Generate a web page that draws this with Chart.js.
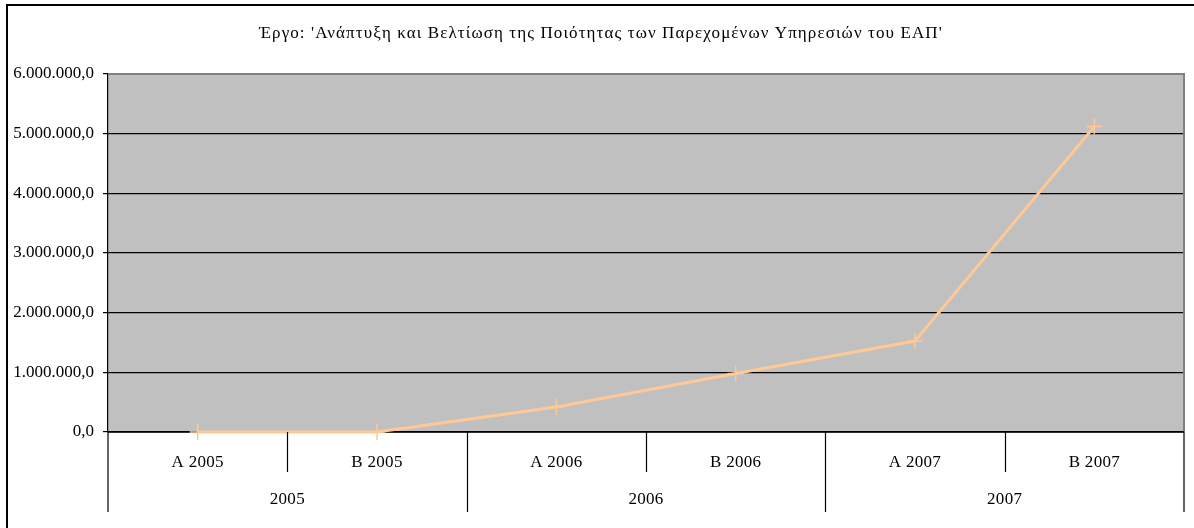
<!DOCTYPE html>
<html>
<head>
<meta charset="utf-8">
<script src="https://cdn.jsdelivr.net/npm/chart.js@4/dist/chart.umd.min.js"></script>
<style>
  html, body { margin:0; padding:0; background:#fff; }
  #wrap { position:relative; width:1194px; height:528px; }
</style>
</head>
<body>
<div id="wrap"><canvas id="chart"></canvas></div>
<script>
// ---- data ----
const titleText = "Έργο: 'Ανάπτυξη και Βελτίωση της Ποιότητας των Παρεχομένων Υπηρεσιών του ΕΑΠ'";
const categories = ['Α 2005', 'Β 2005', 'Α 2006', 'Β 2006', 'Α 2007', 'Β 2007'];
const years = ['2005', '2006', '2007'];       // each year spans two categories
const values = [0, 0, 420000, 980000, 1525000, 5120000];
const yMax = 6000000;
const yStep = 1000000;

const FONT = "'Liberation Serif', 'Times New Roman', serif";

function fmt(v){
  // greek style: 6.000.000,0
  const s = Math.round(v).toString().replace(/\B(?=(\d{3})+(?!\d))/g, '.');
  return s + ',0';
}

// ---- custom drawing: background, frame, title, two-level category axis ----
const frame = {
  id:'frame',
  beforeDraw(chart){
    const {ctx, chartArea:a, width} = chart;
    ctx.letterSpacing = '0px';
    ctx.save();
    ctx.fillStyle = '#fff';
    ctx.fillRect(0, 0, width, chart.height);
    // outer border
    ctx.strokeStyle = '#000';
    ctx.lineWidth = 2;
    ctx.beginPath();
    ctx.moveTo(7, chart.height);
    ctx.lineTo(7, 5);
    ctx.lineTo(width, 5);
    ctx.stroke();
    // plot area
    ctx.fillStyle = '#C0C0C0';
    ctx.fillRect(a.left, a.top, a.right - a.left, a.bottom - a.top);
    // title
    ctx.fillStyle = '#000';
    ctx.font = '17px ' + FONT;
    ctx.letterSpacing = '1.1px';
    ctx.textAlign = 'center';
    ctx.textBaseline = 'middle';
    ctx.fillText(titleText, 601, 34);
    ctx.restore();
  },
  beforeDatasetsDraw(chart){
    const {ctx, chartArea:a} = chart;
    ctx.save();
    ctx.strokeStyle = '#808080';
    ctx.lineWidth = 2;
    ctx.beginPath();
    ctx.moveTo(a.left, a.top);
    ctx.lineTo(a.right, a.top);
    ctx.lineTo(a.right, a.bottom);
    ctx.stroke();
    // x axis line
    ctx.strokeStyle = '#000';
    ctx.lineWidth = 1.5;
    ctx.beginPath();
    ctx.moveTo(a.left, a.bottom);
    ctx.lineTo(a.right, a.bottom);
    ctx.stroke();
    ctx.restore();
  },
  afterDraw(chart){
    const {ctx, chartArea:a} = chart;
    const xs = chart.scales.x;
    const px = i => xs.getPixelForValue(i);
    ctx.save();
    ctx.strokeStyle = '#000';
    ctx.lineWidth = 1.2;
    ctx.beginPath();
    // left and right edges of the category axis
    ctx.moveTo(a.left, a.bottom); ctx.lineTo(a.left, a.bottom + 80);
    ctx.moveTo(a.right, a.bottom); ctx.lineTo(a.right, a.bottom + 80);
    for(let i = 0; i < categories.length - 1; i++){
      const x = Math.round((px(i) + px(i + 1)) / 2) + 0.5;
      const len = (i % 2 === 1) ? 80 : 40;
      ctx.moveTo(x, a.bottom); ctx.lineTo(x, a.bottom + len);
    }
    ctx.stroke();
    ctx.fillStyle = '#000';
    ctx.font = '17px ' + FONT;
    ctx.letterSpacing = '0.3px';
    ctx.textAlign = 'center';
    ctx.textBaseline = 'middle';
    categories.forEach((c, i) => ctx.fillText(c, px(i), a.bottom + 31));
    years.forEach((y, j) => ctx.fillText(y, (px(2 * j) + px(2 * j + 1)) / 2, a.bottom + 68));
    ctx.restore();
  }
};

new Chart(document.getElementById('chart'), {
  type:'line',
  data:{
    labels:categories,
    datasets:[{
      data:values,
      borderColor:'#FFC896',
      borderWidth:3,
      tension:0,
      pointStyle:'cross',
      pointRadius:8,
      pointBorderWidth:1.5,
      pointBorderColor:'#FFC896',
      pointHoverRadius:8,
      clip:false
    }]
  },
  options:{
    responsive:true,
    maintainAspectRatio:false,
    animation:false,
    layout:{padding:{left:0, top:74, right:10, bottom:96}},
    plugins:{legend:{display:false}, tooltip:{enabled:false}, title:{display:false}},
    scales:{
      x:{
        offset:true,
        grid:{display:false},
        border:{display:false},
        ticks:{display:false},
        afterFit(s){ s.height = 0; }
      },
      y:{
        min:0, max:yMax,
        afterFit(s){ s.width = 108; },
        ticks:{
          stepSize:yStep,
          color:'#000',
          padding:9,
          font:{family:FONT, size:17},
          callback:v => fmt(v)
        },
        grid:{
          color:ctx => (ctx.tick && ctx.tick.value === yMax) ? '#808080' : '#000',
          tickColor:'#000',
          lineWidth:1.2,
          tickLength:5
        },
        border:{display:true, color:'#000', width:1.2}
      }
    }
  },
  plugins:[frame]
});
</script>
</body>
</html>
